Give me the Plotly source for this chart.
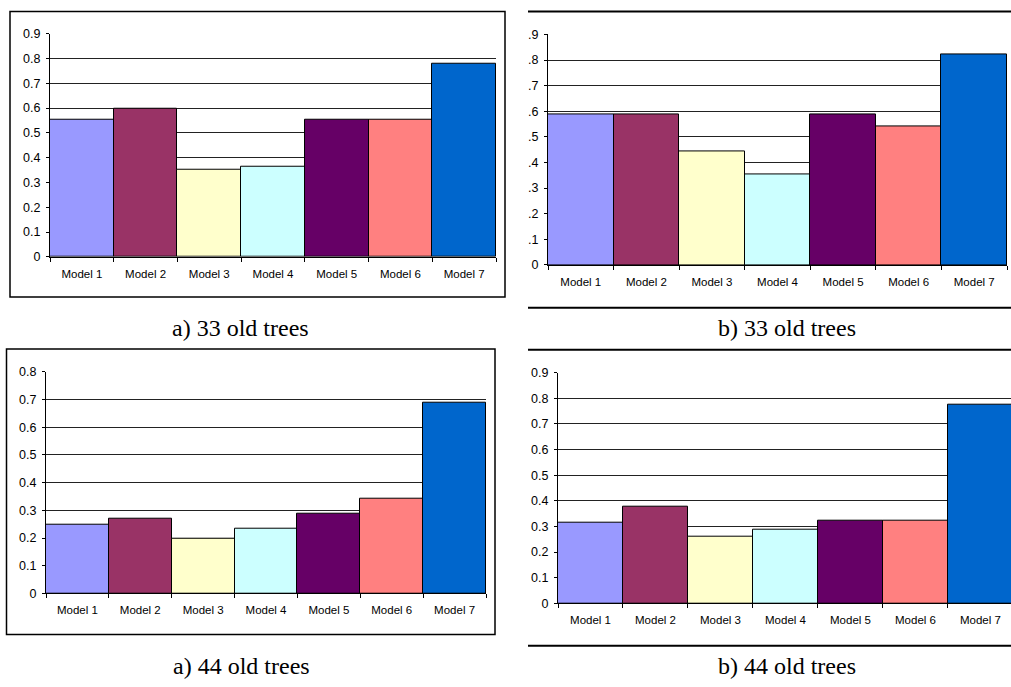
import plotly.graph_objects as go

W, H = 1011, 687

models = ["Model 1", "Model 2", "Model 3", "Model 4", "Model 5", "Model 6", "Model 7"]
colors = ["#9999FF", "#993366", "#FFFFCC", "#CCFFFF", "#660066", "#FF8080", "#0066CC"]

a33 = [0.553, 0.596, 0.353, 0.362, 0.554, 0.554, 0.780]
b33 = [0.588, 0.588, 0.442, 0.352, 0.588, 0.542, 0.820]
a44 = [0.249, 0.269, 0.196, 0.234, 0.289, 0.343, 0.690]
b44 = [0.314, 0.376, 0.260, 0.288, 0.323, 0.323, 0.776]

ticks9 = [0, 0.1, 0.2, 0.3, 0.4, 0.5, 0.6, 0.7, 0.8, 0.9]
ticks9_lbl = ["0", "0.1", "0.2", "0.3", "0.4", "0.5", "0.6", "0.7", "0.8", "0.9"]
ticks9_dot = ["0", ".1", ".2", ".3", ".4", ".5", ".6", ".7", ".8", ".9"]
ticks8 = [0, 0.1, 0.2, 0.3, 0.4, 0.5, 0.6, 0.7, 0.8]
ticks8_lbl = ["0", "0.1", "0.2", "0.3", "0.4", "0.5", "0.6", "0.7", "0.8"]

captions = ["a) 33 old trees", "b) 33 old trees", "a) 44 old trees", "b) 44 old trees"]


def px(x):
    return x / W


def py(y):
    return (H - y) / H


# panel: values, tickvals, ticktext, ymax, x-domain px, y px (zero, top), x-range end
panels = [
    (a33, ticks9, ticks9_lbl, 0.9, (50, 496), (255, 27.3), 6.5),
    (b33, ticks9, ticks9_dot, 0.9, (548, 1007), (263.3, 28), 6.5),
    (a44, ticks8, ticks8_lbl, 0.8, (46, 486), (598.7, 372.3), 6.5),
    (b44, ticks9, ticks9_lbl, 0.9, (558, 1011), (608.7, 373.3), 6.47),
]

fig = go.Figure()
tickfont = dict(family="Liberation Sans, Arial, sans-serif", size=11.5, color="#000000")

for i, (vals, tv, tt, ymax, (x0, x1), (yz, yt), xr) in enumerate(panels, start=1):
    xa = "x" if i == 1 else f"x{i}"
    ya = "y" if i == 1 else f"y{i}"
    fig.add_trace(go.Bar(
        x=models, y=vals, xaxis=xa, yaxis=ya,
        marker=dict(color=colors, line=dict(color="#000000", width=1)),
        width=1, showlegend=False, hoverinfo="x+y",
    ))
    xkey = "xaxis" if i == 1 else f"xaxis{i}"
    ykey = "yaxis" if i == 1 else f"yaxis{i}"
    fig.layout[xkey] = dict(
        domain=[px(x0), px(x1)], anchor=ya, type="category",
        range=[-0.5, xr], showgrid=False, showline=True, linecolor="#000000",
        linewidth=1, ticks="outside", tickson="boundaries", ticklen=4,
        tickcolor="#000000", tickfont=tickfont, zeroline=False, fixedrange=True,
        ticklabelstandoff=6,
    )
    fig.layout[ykey] = dict(
        domain=[py(yz), py(yt)], anchor=xa, range=[0, ymax],
        tickvals=tv, ticktext=tt, showgrid=True, gridcolor="#222222",
        gridwidth=1, showline=True, linecolor="#000000", linewidth=1,
        ticks="outside", ticklen=3, tickcolor="#000000",
        tickfont=dict(family="Liberation Sans, Arial, sans-serif", size=12.5, color="#000000"),
        zeroline=False, fixedrange=True, ticklabelstandoff=3,
    )

shapes = [
    # panel a) 33 box
    dict(type="rect", x0=px(10), x1=px(505), y0=py(296), y1=py(4.5)),
    # panel a) 44 box
    dict(type="rect", x0=px(6.5), x1=px(495), y0=py(640.5), y1=py(349)),
    # panel b) rules
    dict(type="line", x0=px(528), x1=px(1011), y0=py(4.5), y1=py(4.5)),
    dict(type="line", x0=px(528), x1=px(1011), y0=py(307), y1=py(307)),
    dict(type="line", x0=px(528), x1=px(1011), y0=py(350), y1=py(350)),
    dict(type="line", x0=px(528), x1=px(1011), y0=py(652), y1=py(652)),
]
for s in shapes:
    s.update(xref="paper", yref="paper", line=dict(color="#000000", width=1.5 if s["type"] == "rect" else 2))
fig.update_layout(shapes=shapes)

cap_pos = [(240.5, 337), (787, 337), (241, 682), (787, 682)]
for text, (cx, cy) in zip(captions, cap_pos):
    fig.add_annotation(
        text=text, x=px(cx), y=py(cy + 6), xref="paper", yref="paper",
        xanchor="center", yanchor="bottom", showarrow=False,
        font=dict(family="Liberation Serif, Times New Roman, serif", size=24, color="#000000"),
    )

fig.update_layout(
    width=W, height=H, margin=dict(l=0, r=0, t=0, b=0),
    paper_bgcolor="#FFFFFF", plot_bgcolor="#FFFFFF", bargap=0,
)

fig.write_html(
    "out.html",
    config={"displayModeBar": False},
    post_script="document.body.style.margin='0';document.body.style.overflow='hidden';",
)
